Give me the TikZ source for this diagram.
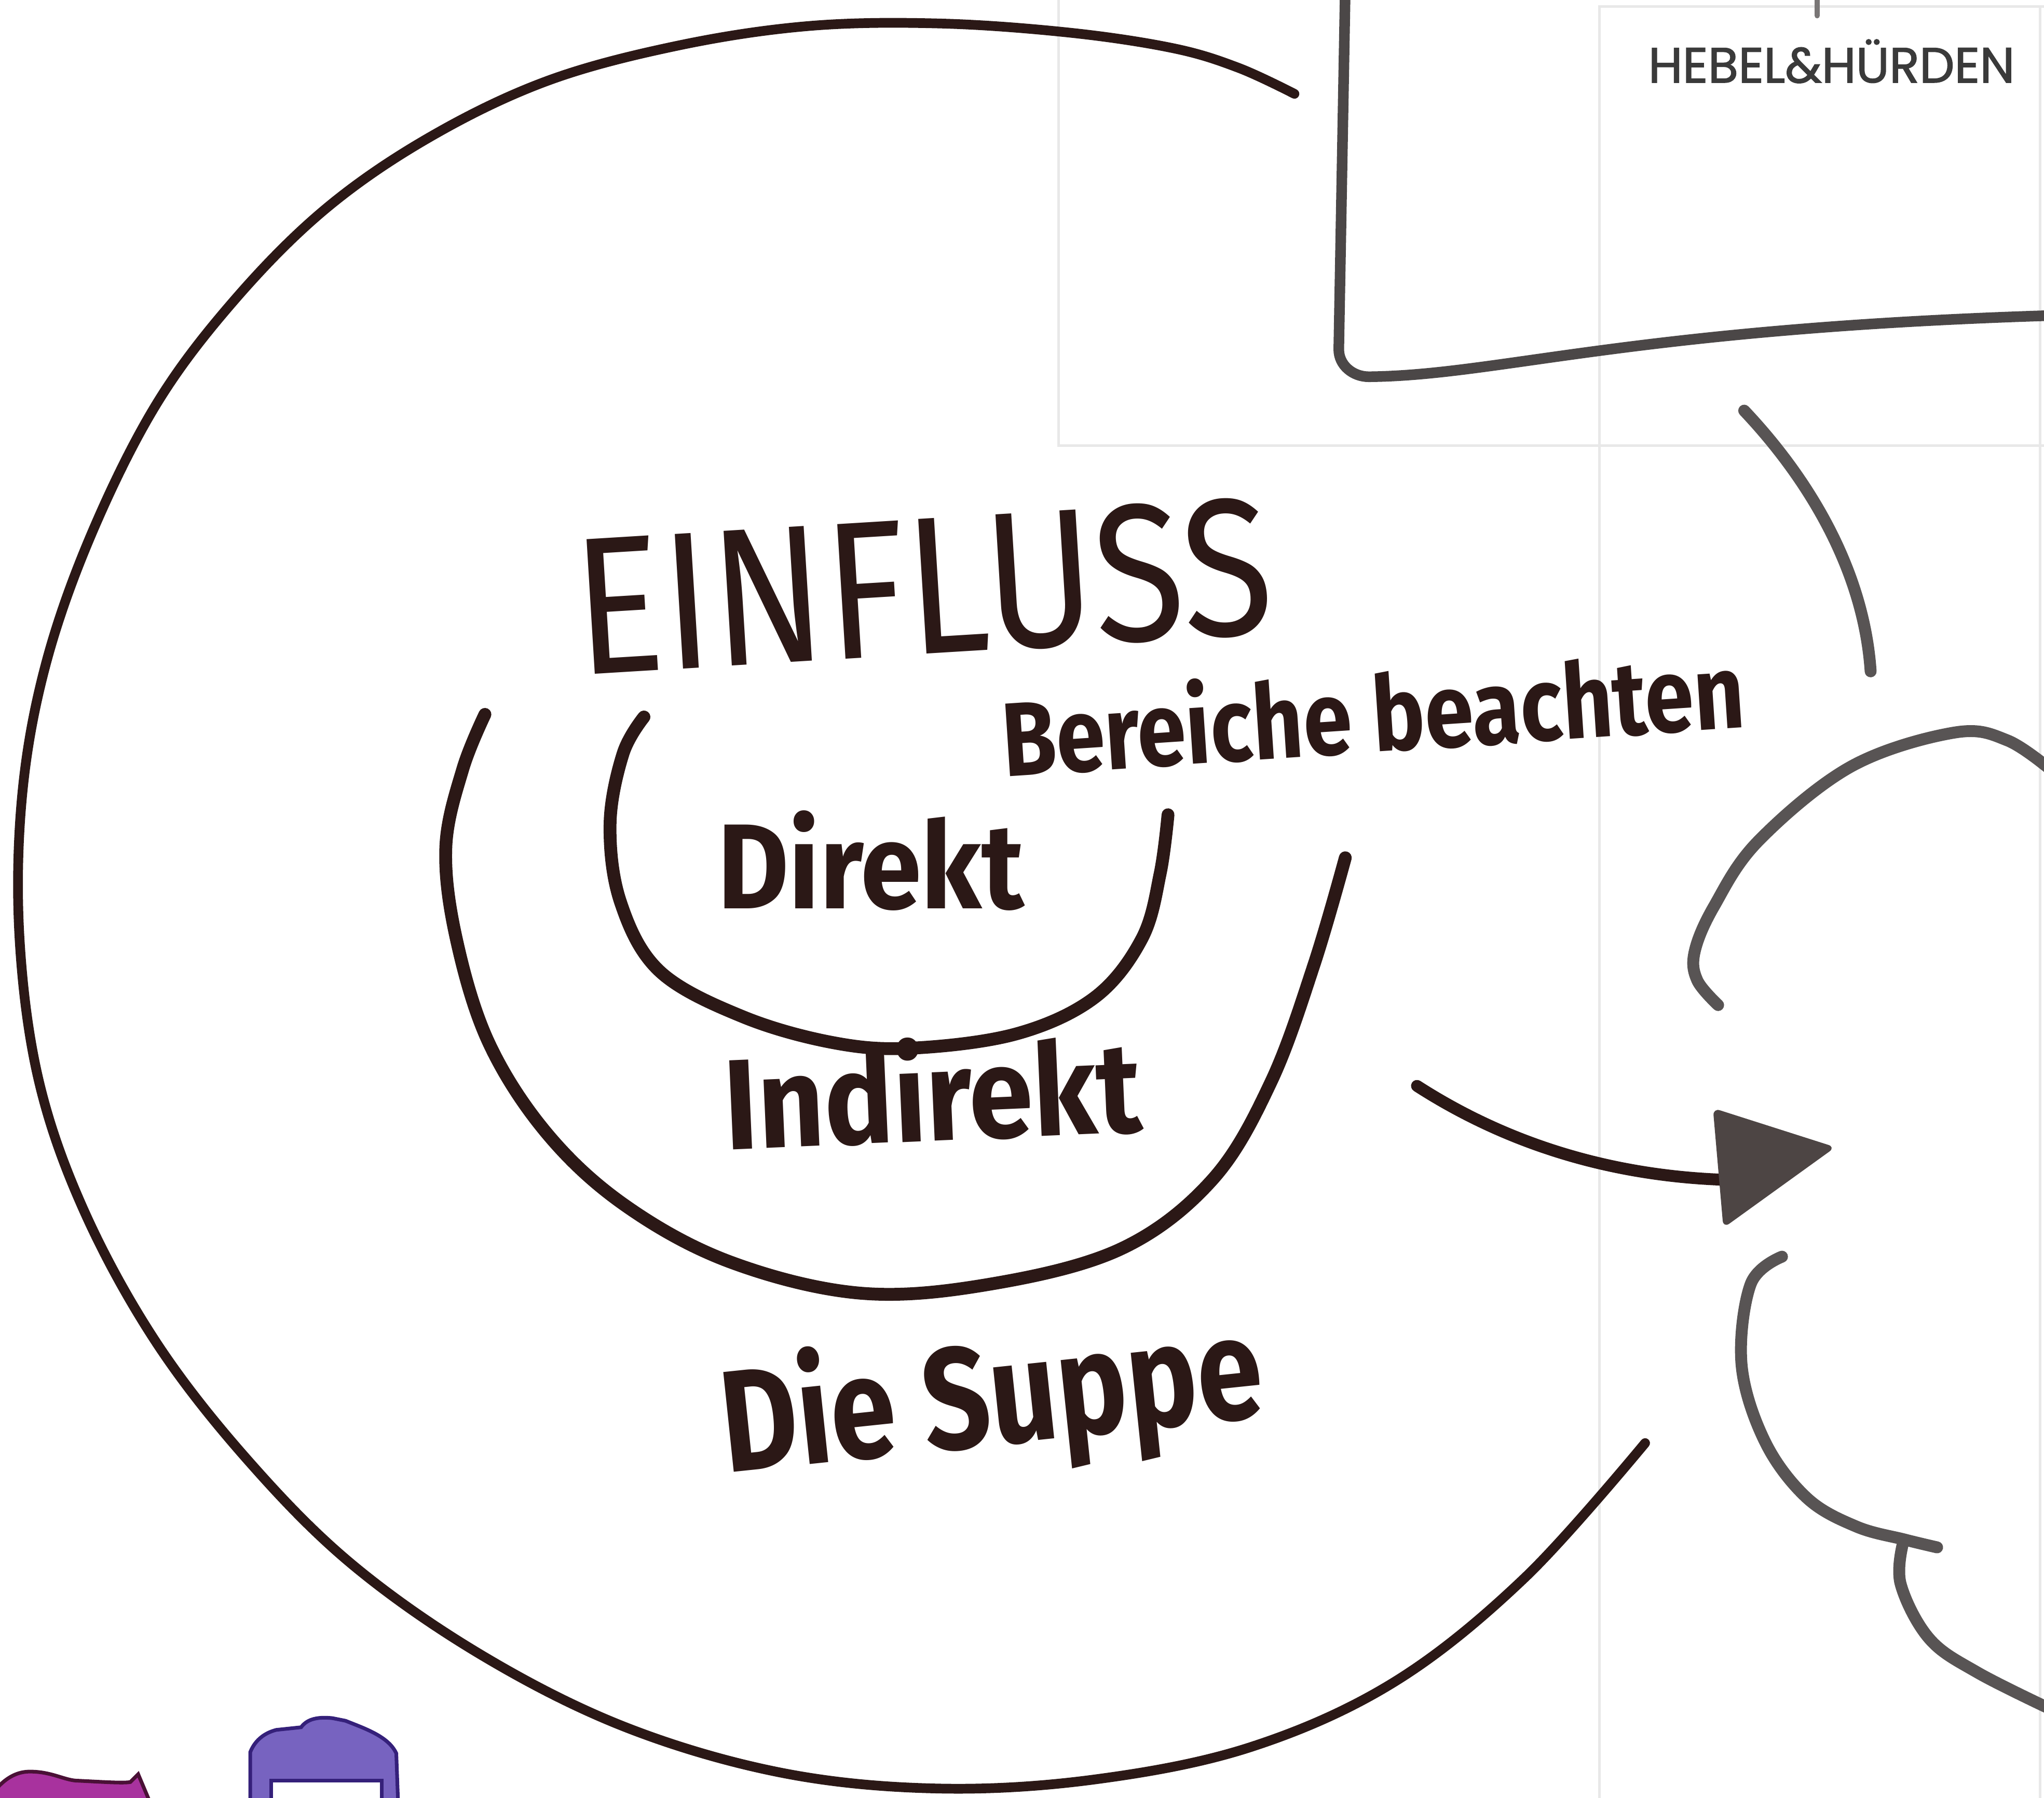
\documentclass[tikz,border=0pt]{standalone}
\usepackage{fontspec}
\newfontfamily\handfont{Fira Sans}
\newfontfamily\logofont[FakeBold=1.6]{Poppins}
\definecolor{ink}{RGB}{43,24,22}
\definecolor{greyink}{RGB}{88,84,84}
\definecolor{guidegrey}{RGB}{232,232,232}
\definecolor{logogrey}{RGB}{58,58,58}
\definecolor{lilac}{RGB}{119,99,192}
\definecolor{lilacdark}{RGB}{53,32,122}
\definecolor{magentafill}{RGB}{168,50,158}
\definecolor{magentadark}{RGB}{74,16,54}
\tikzset{
stroke/.style={draw=ink, line width=5.3pt, line cap=round, line join=round},
ringstroke/.style={stroke, line width=7pt},
greystroke/.style={draw=greyink, line width=6.5pt, line cap=round, line join=round},
guide/.style={draw=guidegrey, line width=1.4pt},
hand/.style={text=ink, inner sep=0pt, font=\handfont},
}

\begin{document}
\begin{tikzpicture}[x=0.025cm, y=-0.025cm]
\useasboundingbox (0,0) rectangle (1568,1379);

% guide frames of the board
\draw[guide] (812,-5) -- (812,342) -- (1575,342);
\draw[guide] (1227,1390) -- (1227,5) -- (1575,5);
\draw[guide] (1565,5) -- (1565,1390);

% outer ring
\draw[stroke] plot[smooth, tension=0.6] coordinates {
(993,72) (950,52) (900,37) (820,25) (720,18) (620,20) (520,35) (420,62)
(330,105) (250,160) (180,230) (120,310) (70,410) (35,510) (17,610)
(15,720) (30,830) (65,930) (120,1030) (190,1120) (270,1200) (370,1270)
(480,1325) (600,1360) (720,1372) (840,1365) (960,1340) (1070,1290)
(1170,1210) (1262,1107)};

% middle ring
\draw[ringstroke] plot[smooth, tension=0.6] coordinates {
(372,548) (355,590) (342,650) (350,720) (375,800) (420,870) (480,925)
(560,968) (660,992) (760,985) (860,958) (930,905) (975,830) (1008,740)
(1032,658)};

% inner ring
\draw[ringstroke] plot[smooth, tension=0.6] coordinates {
(494,550) (478,578) (468,632) (476,692) (506,745) (570,780) (640,800)
(700,804) (780,793) (840,765) (876,720) (890,670) (896,625)};

% frame corner
\draw[greystroke, draw=greyink!85!black, line width=5.8pt]
(1032,-10) -- (1027,268) to[out=-90, in=180] (1050,289)
.. controls (1150,288) and (1250,252) .. (1575,242);
\draw[draw=greyink!80, line width=3pt, line cap=round] (1394,-5) -- (1394,12);

% right side
\draw[greystroke] (1338,315) .. controls (1390,370) and (1430,440) .. (1435,515);
\draw[greystroke] plot[smooth, tension=0.6] coordinates {
(1318,771) (1302,752) (1300,730) (1315,695) (1349,645) (1420,588)
(1499,562) (1540,568) (1575,592)};
\draw[greystroke] plot[smooth, tension=0.6] coordinates {
(1367,964) (1343,985) (1336,1047) (1354,1106) (1386,1149) (1424,1171)
(1461,1181) (1486,1187)};
\draw[greystroke] plot[smooth, tension=0.6] coordinates {
(1460,1183) (1458,1215) (1480,1257) (1517,1283) (1575,1312)};

% arrow
\coordinate (arrowtail) at (1087,833);
\coordinate (arrowtip) at (1408,880);
\draw[stroke, line width=6.5pt] (arrowtail) .. controls (1160,880) and (1240,902) .. (1322,905);
\fill[fill=greyink!75!ink, rounded corners=4pt] (1314,850) -- (arrowtip) -- (1322,942) -- cycle;

% texts
\node[hand, rotate=3.5] (einfluss) at (708,450)
  {\resizebox{13.4cm}{2.63cm}{EINFLUSS}};
\node[hand, rotate=3.8] (bereiche) at (1053,545)
  {\resizebox{14.25cm}{1.63cm}{\bfseries Bereiche beachten}};
\node[hand] (direkt) at (668,660)
  {\resizebox{5.88cm}{1.88cm}{\bfseries Direkt}};
\node[hand, rotate=2.5] (indirekt) at (715,836)
  {\resizebox{8cm}{2cm}{\bfseries Indirekt}};
\node[hand, rotate=6, anchor=base west] (suppe) at (557,1130)
  {\resizebox{10.4cm}{2.25cm}{\bfseries Die Suppe}};

\node[text=logogrey, inner sep=0pt, font=\logofont\fontsize{27}{31}\selectfont] (logo) at (1405,47) {HEBEL\&HÜRDEN};

% markers at the bottom edge
\filldraw[fill=magentafill, draw=magentadark, line width=2pt]
(-10,1400) -- (-5,1375) .. controls (5,1362) and (15,1359) .. (23,1359)
.. controls (40,1359) and (50,1366) .. (60,1366)
.. controls (80,1367) and (95,1368) .. (100,1367) -- (106,1361)
-- (114,1380) -- (116,1400) -- cycle;
\filldraw[fill=lilac, draw=lilacdark, line width=2pt]
(192,1400) -- (192,1344) .. controls (196,1334) and (204,1329) .. (212,1327)
-- (231,1325) .. controls (236,1318) and (245,1317) .. (255,1318)
-- (265,1320) .. controls (280,1326) and (298,1332) .. (304,1345)
-- (306,1400) -- cycle;
\filldraw[fill=white, draw=lilacdark, line width=2pt] (208,1400) rectangle (293,1366);
\end{tikzpicture}
\end{document}
